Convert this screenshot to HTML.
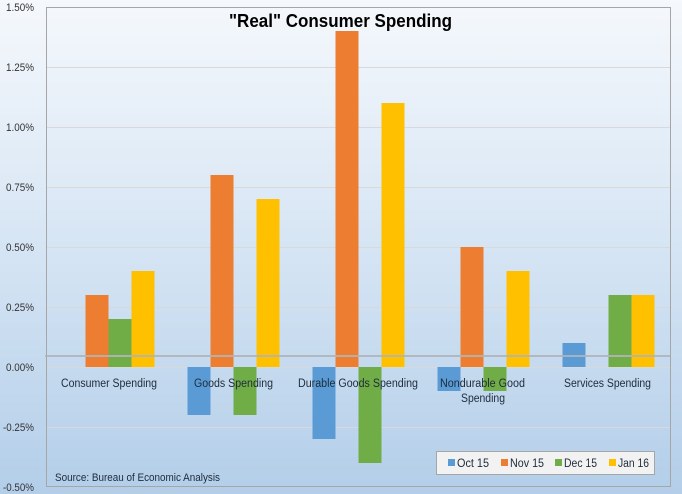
<!DOCTYPE html>
<html><head><meta charset="utf-8"><style>
html,body{margin:0;padding:0;}
body{width:682px;height:494px;overflow:hidden;}
svg{display:block;}
text{font-family:"Liberation Sans",sans-serif;}
</style></head><body>
<svg width="682" height="494" viewBox="0 0 682 494" xmlns="http://www.w3.org/2000/svg">
<defs>
<linearGradient id="bg" x1="0" y1="0" x2="0" y2="1">
<stop offset="0" stop-color="#f5f8fc"/>
<stop offset="0.5" stop-color="#d6e5f4"/>
<stop offset="1" stop-color="#b3cee9"/>
</linearGradient>
</defs>
<rect x="0" y="0" width="682" height="494" fill="url(#bg)"/>
<!-- gridlines -->
<g stroke="#d9d9d9" stroke-width="1">
<line x1="46" y1="67.5" x2="670" y2="67.5"/>
<line x1="46" y1="127.5" x2="670" y2="127.5"/>
<line x1="46" y1="187.5" x2="670" y2="187.5"/>
<line x1="46" y1="247.5" x2="670" y2="247.5"/>
<line x1="46" y1="307.5" x2="670" y2="307.5"/>
<line x1="46" y1="367.5" x2="670" y2="367.5"/>
<line x1="46" y1="427.5" x2="670" y2="427.5"/>
</g>
<!-- plot border -->
<rect x="46.5" y="7.5" width="624" height="479" fill="none" stroke="#a6a6a6" stroke-width="1"/>
<!-- bars -->
<g>
<!-- Consumer -->
<rect x="85.5" y="295" width="23" height="72" fill="#ed7d31"/>
<rect x="108.5" y="319" width="23" height="48" fill="#70ad47"/>
<rect x="131.5" y="271" width="23" height="96" fill="#ffc000"/>
<!-- Goods -->
<rect x="187.5" y="367" width="23" height="48" fill="#5b9bd5"/>
<rect x="210.5" y="175" width="23" height="192" fill="#ed7d31"/>
<rect x="233.5" y="367" width="23" height="48" fill="#70ad47"/>
<rect x="256.5" y="199" width="23" height="168" fill="#ffc000"/>
<!-- Durable -->
<rect x="312.5" y="367" width="23" height="72" fill="#5b9bd5"/>
<rect x="335.5" y="31" width="23" height="336" fill="#ed7d31"/>
<rect x="358.5" y="367" width="23" height="96" fill="#70ad47"/>
<rect x="381.5" y="103" width="23" height="264" fill="#ffc000"/>
<!-- Nondurable -->
<rect x="437.5" y="367" width="23" height="24" fill="#5b9bd5"/>
<rect x="460.5" y="247" width="23" height="120" fill="#ed7d31"/>
<rect x="483.5" y="367" width="23" height="24" fill="#70ad47"/>
<rect x="506.5" y="271" width="23" height="96" fill="#ffc000"/>
<!-- Services -->
<rect x="562.5" y="343" width="23" height="24" fill="#5b9bd5"/>
<rect x="608.5" y="295" width="23" height="72" fill="#70ad47"/>
<rect x="631.5" y="295" width="23" height="72" fill="#ffc000"/>
</g>
<!-- average line -->
<line x1="45" y1="356" x2="670" y2="356" stroke="#b0b4b8" stroke-opacity="0.9" stroke-width="2"/>
<!-- y tick labels -->
<g font-size="11" fill="#333" text-anchor="end">
<text x="34" y="11" textLength="28" lengthAdjust="spacingAndGlyphs">1.50%</text>
<text x="34" y="71" textLength="28" lengthAdjust="spacingAndGlyphs">1.25%</text>
<text x="34" y="131" textLength="28" lengthAdjust="spacingAndGlyphs">1.00%</text>
<text x="34" y="191" textLength="28" lengthAdjust="spacingAndGlyphs">0.75%</text>
<text x="34" y="251" textLength="28" lengthAdjust="spacingAndGlyphs">0.50%</text>
<text x="34" y="311" textLength="28" lengthAdjust="spacingAndGlyphs">0.25%</text>
<text x="34" y="371" textLength="28" lengthAdjust="spacingAndGlyphs">0.00%</text>
<text x="34" y="431" textLength="31" lengthAdjust="spacingAndGlyphs">-0.25%</text>
<text x="34" y="491" textLength="31" lengthAdjust="spacingAndGlyphs">-0.50%</text>
</g>
<!-- category labels -->
<g font-size="11.5" fill="#1e2b3a">
<text x="61" y="387" textLength="96" lengthAdjust="spacingAndGlyphs">Consumer Spending</text>
<text x="194" y="387" textLength="79" lengthAdjust="spacingAndGlyphs">Goods Spending</text>
<text x="298" y="387" textLength="120" lengthAdjust="spacingAndGlyphs">Durable Goods Spending</text>
<text x="440" y="387" textLength="85" lengthAdjust="spacingAndGlyphs">Nondurable Good</text>
<text x="461" y="402" textLength="44" lengthAdjust="spacingAndGlyphs">Spending</text>
<text x="564" y="387" textLength="87" lengthAdjust="spacingAndGlyphs">Services Spending</text>
</g>
<!-- title -->
<text x="229" y="27" font-size="18" font-weight="bold" fill="#000" textLength="223" lengthAdjust="spacingAndGlyphs">"Real" Consumer Spending</text>
<!-- source -->
<text x="55" y="481" font-size="11" fill="#1e2b3a" textLength="165" lengthAdjust="spacingAndGlyphs">Source: Bureau of Economic Analysis</text>
<!-- legend -->
<rect x="436.5" y="451.5" width="218" height="23" fill="#f2f2f2" stroke="#a6a6a6" stroke-width="1"/>
<rect x="448" y="459" width="7" height="7" fill="#5b9bd5"/>
<rect x="501" y="459" width="7" height="7" fill="#ed7d31"/>
<rect x="555" y="459" width="7" height="7" fill="#70ad47"/>
<rect x="609" y="459" width="7" height="7" fill="#ffc000"/>
<g font-size="11.5" fill="#1e2b3a">
<text x="457" y="467" textLength="32" lengthAdjust="spacingAndGlyphs">Oct 15</text>
<text x="510" y="467" textLength="34" lengthAdjust="spacingAndGlyphs">Nov 15</text>
<text x="564" y="467" textLength="33" lengthAdjust="spacingAndGlyphs">Dec 15</text>
<text x="618" y="467" textLength="31" lengthAdjust="spacingAndGlyphs">Jan 16</text>
</g>
</svg>
</body></html>
